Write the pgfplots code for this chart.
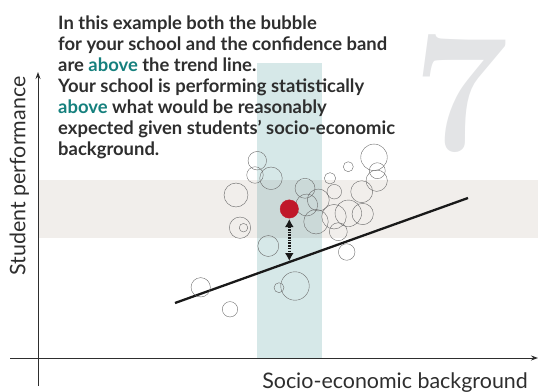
\documentclass[border=0pt]{standalone}
\usepackage{pgfplots}
\pgfplotsset{compat=1.18}
\usetikzlibrary{arrows.meta}
\usepackage{fontspec}
\setmainfont{Lato}
\newfontfamily\sevenfont{Latin Modern Roman}

\definecolor{beige}{HTML}{F1EEEB}
\definecolor{bandteal}{HTML}{D6E8E8}
\definecolor{overlap}{HTML}{CBD9D8}
\definecolor{bubblegray}{HTML}{6B6B6B}
\definecolor{schoolred}{HTML}{C0182A}
\definecolor{txtgray}{HTML}{2E2E2E}
\definecolor{tealtxt}{HTML}{15807D}
\definecolor{sevengray}{HTML}{E3E4E6}

% bubbles: x, y (image coordinates, y downwards), radius
\pgfplotstableread{
x     y      r
257.3 160.7  9.3
255.0 175.0  8.3
271.0 178.3  11.3
236.0 195.0  12.0
240.0 227.7  10.7
243.5 227.7  4.3
268.3 246.0  10.5
305.0 188.3  10.0
318.3 200.0  11.0
306.7 205.0  11.0
316.0 221.7  12.3
330.0 178.3  5.7
348.3 166.7  5.0
334.3 191.7  7.3
374.0 157.3  13.3
377.3 170.7  8.0
376.7 180.7  10.7
361.7 191.7  11.0
348.3 213.3  13.3
362.7 214.0  10.7
334.0 216.7  12.3
338.3 231.7  9.0
346.7 252.0  8.3
200.7 287.3  9.7
230.0 309.3  7.7
279.0 287.7  5.0
295.0 286.0  14.3
}\bubbles

\begin{document}
\begin{tikzpicture}
\begin{axis}[
  scale only axis,
  width=538bp, height=392bp,
  xmin=0, xmax=538,
  ymin=0, ymax=392,
  y dir=reverse,
  hide axis,
  clip=false,
]
% background bands
\addplot[fill=beige, draw=none] coordinates {(38,180)(538,180)(538,238)(38,238)} -- cycle;
\addplot[fill=bandteal, draw=none] coordinates {(257,63)(322,63)(322,358)(257,358)} -- cycle;
\addplot[fill=overlap, draw=none] coordinates {(257,180)(322,180)(322,238)(257,238)} -- cycle;

% big numeral
\node[text=sevengray, font=\sevenfont\bfseries\fontsize{172}{172}\selectfont, inner sep=0pt, anchor=base] at (axis cs:461,150) {7};

% axes
\addplot[txtgray, line width=0.9bp, -{Stealth[length=7bp,width=5bp]}] coordinates {(38,386)(38,72)};
\addplot[txtgray, line width=0.9bp, -{Stealth[length=7bp,width=5bp]}] coordinates {(10,358)(538,358)};

% bubbles
\addplot[scatter, only marks, mark=o,
  scatter/use mapped color={draw=bubblegray, fill=none},
  visualization depends on={\thisrow{r} \as \rad},
  scatter/@pre marker code/.append style={/tikz/mark size=\rad, /tikz/line width=0.8bp},
] table[x=x, y=y] {\bubbles};

% trend line
\addplot[black!90, line width=2.3bp] coordinates {(175,303)(468,198)};

% your school
\addplot[only marks, mark=*, mark size=9.2, color=schoolred] coordinates {(289.3,209)};
\addplot[black!90, line width=2.6bp, dash pattern=on 1.6bp off 1.1bp,
  {Latex[length=8bp,width=9bp]}-{Latex[length=8bp,width=9bp]}] coordinates {(289.3,219)(289.3,261)};

% text
\node[anchor=base west, align=left, inner sep=0pt, text=txtgray,
  font=\bfseries\fontsize{18.5}{21.2}\selectfont] at (axis cs:58,155.8)
  {In this example both the bubble\\
   for your school and the confidence band\\
   are \textcolor{tealtxt}{above} the trend line.\\
   Your school is performing statistically\\
   \textcolor{tealtxt}{above} what would be reasonably\\
   expected given students’ socio-economic\\
   background.};

% axis labels
\node[anchor=base east, inner sep=0pt, text=txtgray, font=\fontsize{21.5}{21.5}\selectfont] at (axis cs:528,388) {Socio-economic background};
\node[anchor=base, rotate=90, inner sep=0pt, text=txtgray, font=\fontsize{21.5}{21.5}\selectfont] at (axis cs:25.5,176) {Student performance};
\end{axis}
\pgfresetboundingbox
\path (0,0) rectangle (538bp,392bp);
\end{tikzpicture}
\end{document}
